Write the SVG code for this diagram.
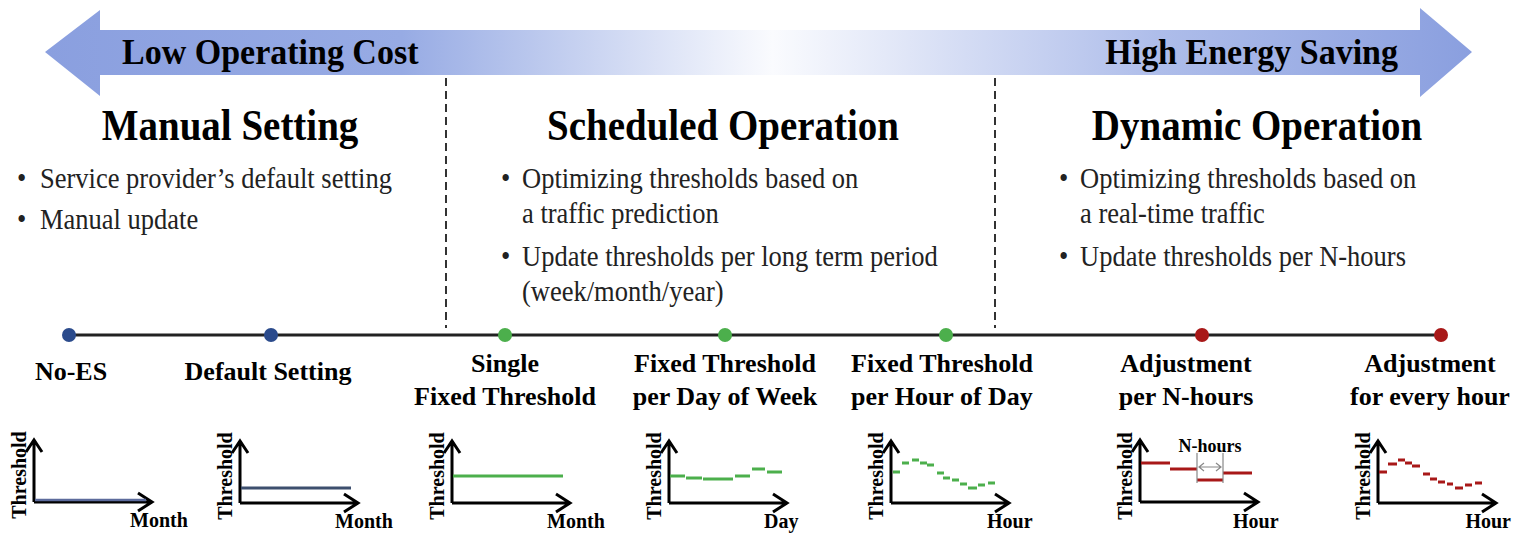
<svg xmlns="http://www.w3.org/2000/svg" width="1514" height="538" viewBox="0 0 1514 538">
<defs>
<linearGradient id="arrowGrad" gradientUnits="userSpaceOnUse" x1="45" y1="0" x2="1472" y2="0">
<stop offset="0" stop-color="#8a9fdf"/>
<stop offset="0.25" stop-color="#97abe4"/>
<stop offset="0.51" stop-color="#fafbfe"/>
<stop offset="0.78" stop-color="#aebdea"/>
<stop offset="1" stop-color="#8a9fdf"/>
</linearGradient>
<g id="axes">
<path d="M0,0 V-62 M-8,-50 L0,-62 L8,-50 M0,0 H118 M104,-9 L118,0 L104,9" fill="none" stroke="#000" stroke-width="3"/>
</g>
</defs>
<style>
.serif{font-family:"Liberation Serif","Times New Roman",serif;fill:#000}
.big{font-size:34px;font-weight:bold}
.head{font-size:39px;font-weight:bold}
.bul{font-size:26.5px;fill:#222}
.lab{font-size:26px;font-weight:bold;text-anchor:middle}
.ax{font-size:20px;font-weight:bold}
.dash{stroke:#000;stroke-width:1.6;stroke-dasharray:8 5;fill:none}
.tl{stroke:#222;stroke-width:3;fill:none}
.g{stroke:#4caf4c;stroke-width:3;fill:none}
.r{stroke:#a81818;stroke-width:3;fill:none}
</style>
<rect width="1514" height="538" fill="#fff"/>

<g id="arrow">
<path d="M45,52 L100,10 L100,30 L1420,30 L1420,8 L1472,52 L1420,97 L1420,75 L100,75 L100,96 Z" fill="url(#arrowGrad)"/>
<text class="serif big" transform="translate(122,64) scale(1,1.08)">Low Operating Cost</text>
<text class="serif big" transform="translate(1398,64) scale(1,1.08)" text-anchor="end">High Energy Saving</text>
</g>

<g id="dividers">
<line class="dash" x1="446" y1="78" x2="446" y2="328"/>
<line class="dash" x1="995" y1="78" x2="995" y2="328"/>
</g>

<g id="manual-setting">
<text class="serif head" transform="translate(230,140) scale(1,1.12)" text-anchor="middle">Manual Setting</text>
<text class="serif bul" transform="translate(17,188) scale(1,1.08)">•</text>
<text class="serif bul" transform="translate(40,188) scale(1,1.08)">Service provider’s default setting</text>
<text class="serif bul" transform="translate(17,229) scale(1,1.08)">•</text>
<text class="serif bul" transform="translate(40,229) scale(1,1.08)">Manual update</text>
</g>

<g id="scheduled-operation">
<text class="serif head" transform="translate(723,140) scale(1,1.12)" text-anchor="middle">Scheduled Operation</text>
<text class="serif bul" transform="translate(501,188) scale(1,1.08)">•</text>
<text class="serif bul" transform="translate(522,188) scale(1,1.08)">Optimizing thresholds based on</text>
<text class="serif bul" transform="translate(522,223) scale(1,1.08)">a traffic prediction</text>
<text class="serif bul" transform="translate(501,266) scale(1,1.08)">•</text>
<text class="serif bul" transform="translate(522,266) scale(1,1.08)">Update thresholds per long term period</text>
<text class="serif bul" transform="translate(522,301) scale(1,1.08)">(week/month/year)</text>
</g>

<g id="dynamic-operation">
<text class="serif head" transform="translate(1257,140) scale(1,1.12)" text-anchor="middle">Dynamic Operation</text>
<text class="serif bul" transform="translate(1059,188) scale(1,1.08)">•</text>
<text class="serif bul" transform="translate(1080,188) scale(1,1.08)">Optimizing thresholds based on</text>
<text class="serif bul" transform="translate(1080,223) scale(1,1.08)">a real-time traffic</text>
<text class="serif bul" transform="translate(1059,266) scale(1,1.08)">•</text>
<text class="serif bul" transform="translate(1080,266) scale(1,1.08)">Update thresholds per N-hours</text>
</g>

<g id="connectors">
<line class="tl" x1="69" y1="335" x2="1441" y2="335"/>
</g>

<g id="no-es">
<circle cx="69" cy="335" r="7" fill="#2b4b8c"/>
<text class="serif lab" x="71" y="380">No-ES</text>
<use href="#axes" x="34" y="502"/>
<path d="M35,500 H146" stroke="#5c6b9c" stroke-width="2.5" fill="none"/>
<text class="serif ax" transform="translate(26,475) rotate(-90)" text-anchor="middle">Threshold</text>
<text class="serif ax" x="130" y="527">Month</text>
</g>

<g id="default-setting">
<circle cx="271" cy="335" r="7" fill="#2b4b8c"/>
<text class="serif lab" x="268" y="380">Default Setting</text>
<use href="#axes" x="240" y="503"/>
<path d="M241,488 H351" stroke="#3d4f6e" stroke-width="3" fill="none"/>
<text class="serif ax" transform="translate(232,476) rotate(-90)" text-anchor="middle">Threshold</text>
<text class="serif ax" x="335" y="528">Month</text>
</g>

<g id="single-fixed">
<circle cx="505" cy="335" r="7" fill="#4caf4c"/>
<text class="serif lab" x="505" y="372">Single</text>
<text class="serif lab" x="505" y="405">Fixed Threshold</text>
<use href="#axes" x="452" y="503"/>
<path class="g" d="M453,476 H563"/>
<text class="serif ax" transform="translate(444,476) rotate(-90)" text-anchor="middle">Threshold</text>
<text class="serif ax" x="547" y="528">Month</text>
</g>

<g id="day-of-week">
<circle cx="725" cy="335" r="7" fill="#4caf4c"/>
<text class="serif lab" x="725" y="372">Fixed Threshold</text>
<text class="serif lab" x="725" y="405">per Day of Week</text>
<use href="#axes" x="669" y="503"/>
<path class="g" d="M670,476 H685 M686,478 H702 M703,479 H733 M735,476 H750 M752,469 H765 M767,472 H782"/>
<text class="serif ax" transform="translate(661,476) rotate(-90)" text-anchor="middle">Threshold</text>
<text class="serif ax" x="764" y="528">Day</text>
</g>

<g id="hour-of-day">
<circle cx="946" cy="335" r="7" fill="#4caf4c"/>
<text class="serif lab" x="942" y="372">Fixed Threshold</text>
<text class="serif lab" x="942" y="405">per Hour of Day</text>
<use href="#axes" x="891" y="503"/>
<path class="g" d="M893,472 h7 M902,463 h7 M912,460 h7 M920,463 h7 M927,465 h7 M937,473 h7 M943,478 h7 M952,480 h7 M960,484 h7 M968,488 h9 M978,485 h7 M988,483 h7"/>
<text class="serif ax" transform="translate(883,476) rotate(-90)" text-anchor="middle">Threshold</text>
<text class="serif ax" x="987" y="528">Hour</text>
</g>

<g id="per-n-hours">
<circle cx="1202" cy="335" r="7" fill="#a81818"/>
<text class="serif lab" x="1186" y="372">Adjustment</text>
<text class="serif lab" x="1186" y="405">per N-hours</text>
<use href="#axes" x="1140" y="502"/>
<path class="r" d="M1141,463 H1170 M1170,469 H1197 M1197,480 H1223 M1223,473 H1252"/>
<path d="M1197,453 V483 M1223,453 V483 M1199,467 H1221 M1204,463 L1199,467 L1204,471 M1216,463 L1221,467 L1216,471" stroke="#888" stroke-width="1.2" fill="none"/>
<text class="serif" x="1210" y="452" font-size="18" font-weight="bold" text-anchor="middle">N-hours</text>
<text class="serif ax" transform="translate(1132,476) rotate(-90)" text-anchor="middle">Threshold</text>
<text class="serif ax" x="1233" y="528">Hour</text>
</g>

<g id="every-hour">
<circle cx="1441" cy="335" r="7" fill="#a81818"/>
<text class="serif lab" x="1430" y="372">Adjustment</text>
<text class="serif lab" x="1430" y="405">for every hour</text>
<use href="#axes" x="1378" y="503"/>
<path class="r" d="M1379,472 h8 M1388,464 h9 M1398,460 h7 M1405,463 h7 M1412,466 h8 M1423,474 h7 M1430,479 h7 M1438,482 h7 M1447,484 h6 M1455,488 h8 M1465,485 h7 M1475,483 h7"/>
<text class="serif ax" transform="translate(1370,476) rotate(-90)" text-anchor="middle">Threshold</text>
<text class="serif ax" x="1511" y="528" text-anchor="end">Hour</text>
</g>
</svg>
